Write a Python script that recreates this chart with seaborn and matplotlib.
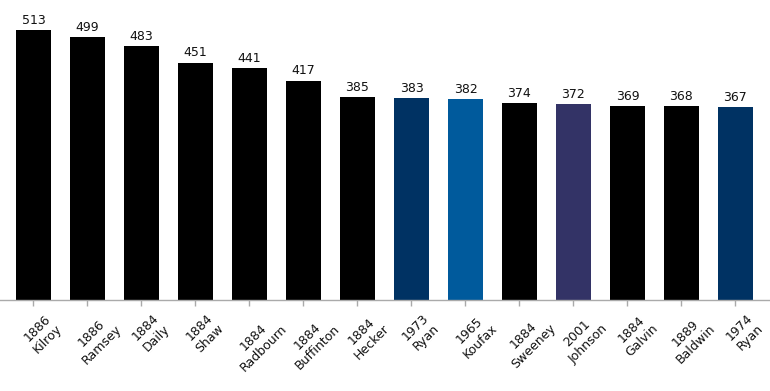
import matplotlib
matplotlib.use("Agg")
import matplotlib.pyplot as plt
import matplotlib.transforms as mtransforms
import seaborn as sns
import pandas as pd

years = ["1886", "1886", "1884", "1884", "1884", "1884", "1884", "1973", "1965", "1884", "2001", "1884", "1889", "1974"]
names = ["Kilroy", "Ramsey", "Daily", "Shaw", "Radbourn", "Buffinton", "Hecker", "Ryan", "Koufax", "Sweeney", "Johnson", "Galvin", "Baldwin", "Ryan"]
values = [513, 499, 483, 451, 441, 417, 385, 383, 382, 374, 372, 369, 368, 367]
colors = ["#000000", "#000000", "#000000", "#000000", "#000000", "#000000", "#000000",
          "#003263", "#005A9C", "#000000", "#333366", "#000000", "#000000", "#003263"]

labels = [f"{y}\n{n}" for y, n in zip(years, names)]
df = pd.DataFrame({"label": labels, "value": values})

sns.set_theme(style="white")
plt.rcParams["font.family"] = ["DejaVu Sans"]

fig = plt.figure(figsize=(7.7, 3.91), dpi=100)
ax = fig.add_axes([0, 91 / 391, 1, 300 / 391])

sns.barplot(data=df, x="label", y="value", hue="label", palette=colors,
            legend=False, width=0.65, saturation=1, ax=ax, edgecolor="none")

for i, v in enumerate(values):
    ax.text(i, v + 6, str(v), ha="center", va="bottom", fontsize=9, color="#111111")

ax.set_xlim(-0.62, 13.64)
ax.set_ylim(0, 570)
ax.set_xlabel("")
ax.set_ylabel("")
ax.set_yticks([])
for s in ["top", "right", "left"]:
    ax.spines[s].set_visible(False)
ax.spines["bottom"].set_color("#aaaaaa")
ax.spines["bottom"].set_linewidth(1)
ax.tick_params(axis="x", bottom=True, length=4, color="#aaaaaa", width=1, pad=4,
               labelsize=9, labelcolor="#111111")
ax.set_xticks(range(len(labels)))
ax.set_xticklabels(labels, rotation=45, ha="center", rotation_mode="default", linespacing=1.25)
offset = mtransforms.ScaledTranslation(9 / 100, 0, fig.dpi_scale_trans)
for lab in ax.get_xticklabels():
    lab.set_transform(lab.get_transform() + offset)

fig.savefig("out.png", dpi=100)
